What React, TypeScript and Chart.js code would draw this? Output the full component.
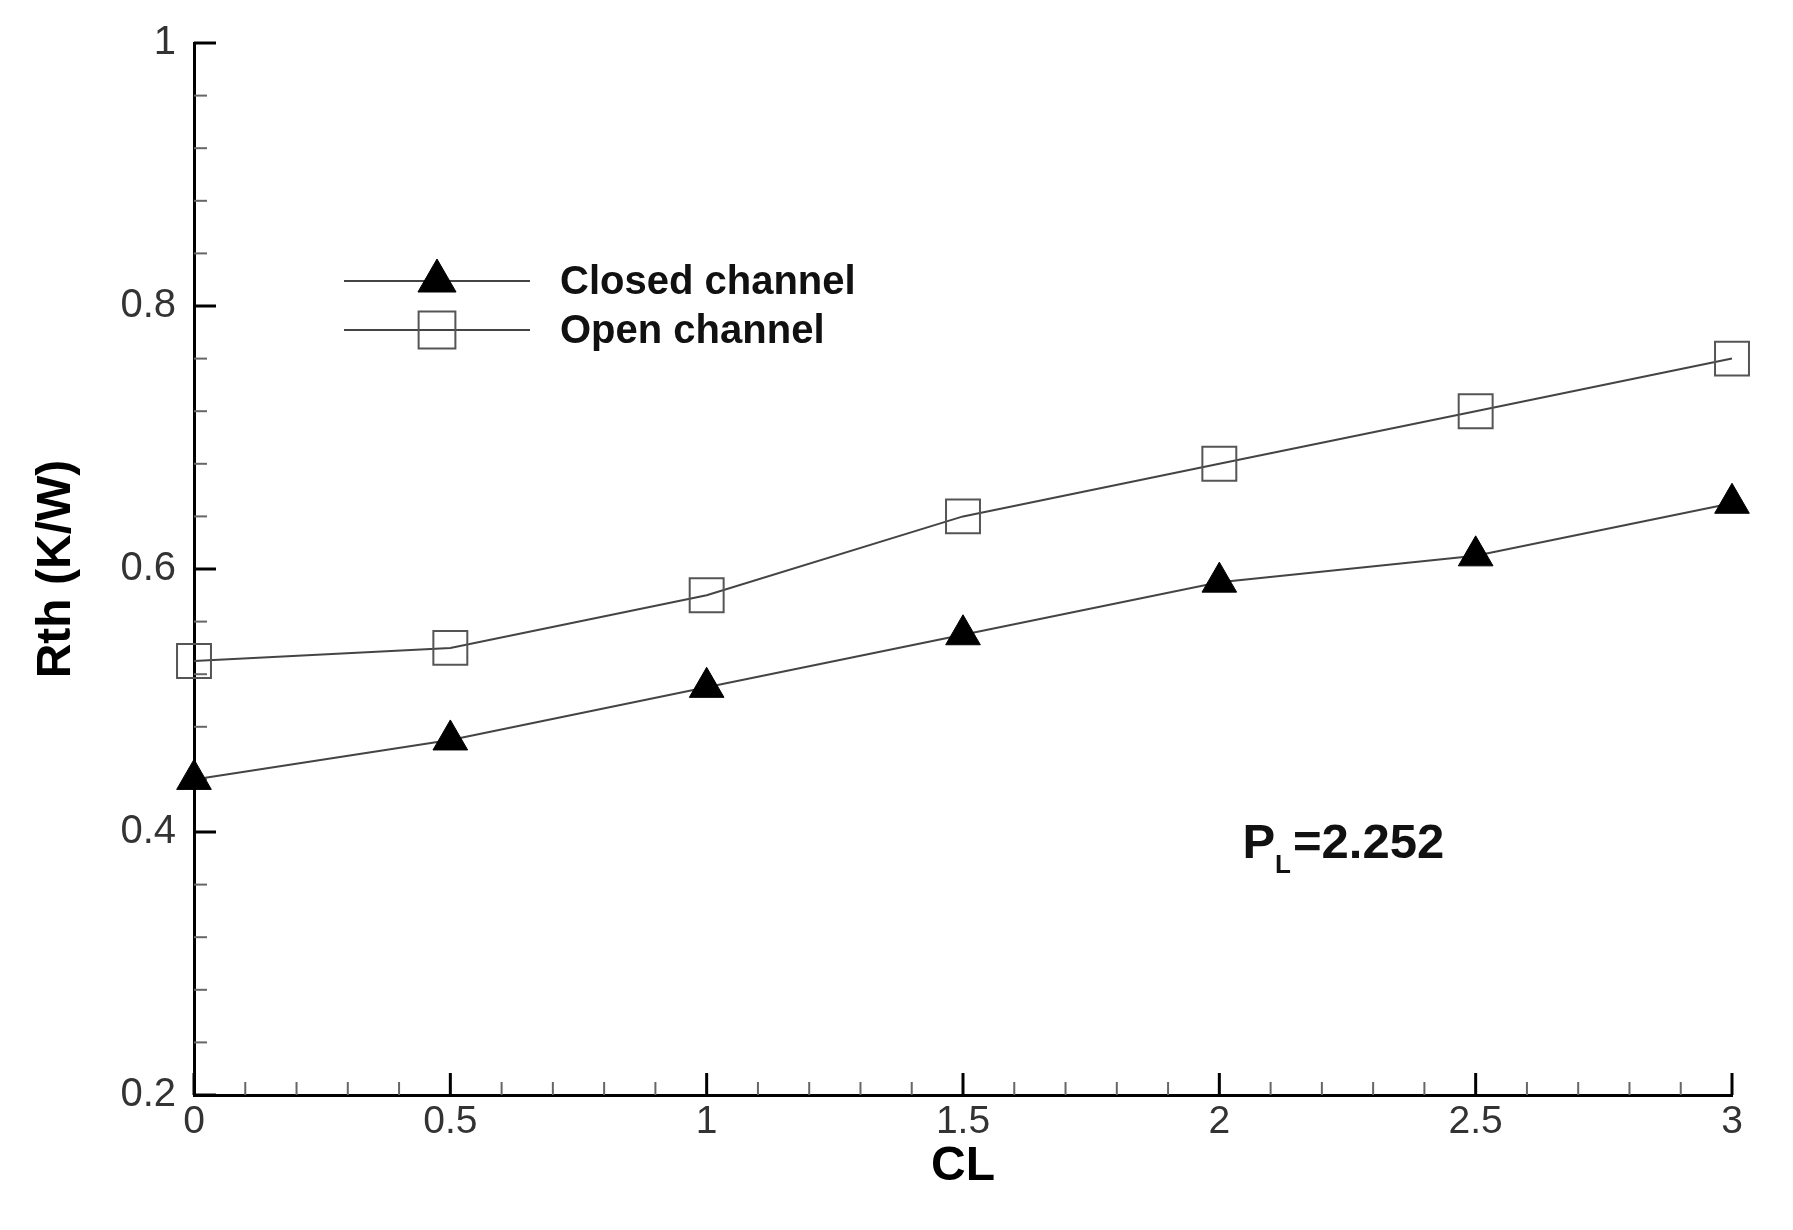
import React, { useEffect, useRef } from 'react';
import { Chart, registerables } from 'chart.js';

Chart.register(...registerables);

// ---- Data ----
const clValues = [0, 0.5, 1, 1.5, 2, 2.5, 3];
const closedChannel = [0.44, 0.47, 0.51, 0.55, 0.59, 0.61, 0.65];
const openChannel = [0.53, 0.54, 0.58, 0.64, 0.68, 0.72, 0.76];
const seriesNames = ['Closed channel', 'Open channel'];
const xTickValues = [0, 0.5, 1, 1.5, 2, 2.5, 3];
const yTickValues = [0.2, 0.4, 0.6, 0.8, 1];
const xTitle = 'CL';
const yTitle = 'Rth (K/W)';
const annotationParts = ['P', 'L', '=2.252'];
const annotationAt = [2.045, 0.38]; // [CL, Rth] of text baseline start

const MINOR_DIVISIONS = 5;
const FONT = '"Liberation Sans", Arial, Helvetica, sans-serif';

function drawMarker(ctx: CanvasRenderingContext2D, style: string, x: number, y: number, r: number, fill: string | null, stroke: string, lw: number) {
  ctx.save();
  ctx.beginPath();
  if (style === 'triangle') {
    const a = (2 * Math.PI) / 3;
    ctx.moveTo(x, y - r);
    ctx.lineTo(x + Math.sin(a) * r, y - Math.cos(a) * r);
    ctx.lineTo(x + Math.sin(2 * a) * r, y - Math.cos(2 * a) * r);
    ctx.closePath();
  } else {
    const s = Math.SQRT1_2 * r;
    ctx.rect(x - s, y - s, 2 * s, 2 * s);
  }
  if (fill) {
    ctx.fillStyle = fill;
    ctx.fill();
  }
  ctx.lineWidth = lw;
  ctx.strokeStyle = stroke;
  ctx.stroke();
  ctx.restore();
}

const tickPlugin = {
  id: 'inwardTicks',
  beforeDatasetsDraw(chart: any) {
    const { ctx, chartArea } = chart;
    const xs = chart.scales.x;
    const ys = chart.scales.y;
    ctx.save();
    // x ticks
    for (let i = 0; i < xTickValues.length; i++) {
      const v0 = xTickValues[i];
      for (let k = 0; k < MINOR_DIVISIONS; k++) {
        if (i === xTickValues.length - 1 && k > 0) break;
        const step = i < xTickValues.length - 1 ? (xTickValues[i + 1] - v0) / MINOR_DIVISIONS : 0;
        const v = v0 + k * step;
        const px = xs.getPixelForValue(v);
        const major = k === 0;
        ctx.beginPath();
        ctx.strokeStyle = major ? '#000' : '#666';
        ctx.lineWidth = major ? 3 : 2;
        ctx.moveTo(px, chartArea.bottom);
        ctx.lineTo(px, chartArea.bottom - (major ? 22 : 13));
        ctx.stroke();
      }
    }
    // y ticks
    for (let i = 0; i < yTickValues.length; i++) {
      const v0 = yTickValues[i];
      for (let k = 0; k < MINOR_DIVISIONS; k++) {
        if (i === yTickValues.length - 1 && k > 0) break;
        const step = i < yTickValues.length - 1 ? (yTickValues[i + 1] - v0) / MINOR_DIVISIONS : 0;
        const v = v0 + k * step;
        const py = ys.getPixelForValue(v);
        const major = k === 0;
        ctx.beginPath();
        ctx.strokeStyle = major ? '#000' : '#666';
        ctx.lineWidth = major ? 3 : 2;
        ctx.moveTo(chartArea.left, py);
        ctx.lineTo(chartArea.left + (major ? 22 : 13), py);
        ctx.stroke();
      }
    }
    ctx.restore();
  },
  afterDraw(chart: any) {
    const { ctx, chartArea } = chart;
    const xs = chart.scales.x;
    const ys = chart.scales.y;
    ctx.save();
    // Legend
    const lx0 = chartArea.left + 150;
    const lx1 = chartArea.left + 336;
    const mx = chartArea.left + 243;
    const tx = chartArea.left + 366;
    const rows = [chartArea.top + 238, chartArea.top + 287];
    const styles = ['triangle', 'rect'];
    chart.data.datasets.forEach((ds: any, i: number) => {
      const y = rows[i];
      ctx.beginPath();
      ctx.strokeStyle = ds.borderColor;
      ctx.lineWidth = ds.borderWidth;
      ctx.moveTo(lx0, y);
      ctx.lineTo(lx1, y);
      ctx.stroke();
      if (styles[i] === 'triangle') {
        drawMarker(ctx, 'triangle', mx, y, 22, '#000', '#000', 1);
      } else {
        drawMarker(ctx, 'rect', mx, y, 26, null, '#555', 2);
      }
      ctx.fillStyle = '#111';
      ctx.font = `bold 40px ${FONT}`;
      ctx.textBaseline = 'middle';
      ctx.textAlign = 'left';
      ctx.fillText(seriesNames[i], tx, y + 2);
    });
    // Annotation P_L = 2.252
    const ax = xs.getPixelForValue(annotationAt[0]);
    const ay = ys.getPixelForValue(annotationAt[1]);
    ctx.fillStyle = '#111';
    ctx.textBaseline = 'alphabetic';
    ctx.textAlign = 'left';
    ctx.font = `bold 49px ${FONT}`;
    ctx.fillText(annotationParts[0], ax, ay);
    const w0 = ctx.measureText(annotationParts[0]).width;
    ctx.font = `bold 26px ${FONT}`;
    ctx.fillText(annotationParts[1], ax + w0, ay + 15);
    const w1 = ctx.measureText(annotationParts[1]).width;
    ctx.font = `bold 49px ${FONT}`;
    ctx.fillText(annotationParts[2], ax + w0 + w1 + 2, ay);
    ctx.restore();
  },
};

export default function App() {
  const canvasRef = useRef<HTMLCanvasElement | null>(null);

  useEffect(() => {
    const canvas = canvasRef.current;
    if (!canvas) return;
    const chart = new Chart(canvas, {
      type: 'line',
      data: {
        datasets: [
          {
            label: seriesNames[0],
            data: clValues.map((x, i) => ({ x, y: closedChannel[i] })),
            borderColor: '#444',
            borderWidth: 2,
            pointStyle: 'triangle',
            pointRadius: 20,
            pointBackgroundColor: '#000',
            pointBorderColor: '#000',
            pointBorderWidth: 1,
            tension: 0,
            clip: false,
          },
          {
            label: seriesNames[1],
            data: clValues.map((x, i) => ({ x, y: openChannel[i] })),
            borderColor: '#444',
            borderWidth: 2,
            pointStyle: 'rect',
            pointRadius: 24,
            pointBackgroundColor: 'rgba(0,0,0,0)',
            pointBorderColor: '#555',
            pointBorderWidth: 2,
            tension: 0,
            clip: false,
          },
        ],
      },
      options: {
        responsive: false,
        animation: false,
        devicePixelRatio: 1,
        layout: { padding: { left: 0, right: 61, top: 43, bottom: 0 } },
        plugins: {
          legend: { display: false },
          tooltip: { enabled: false },
        },
        scales: {
          x: {
            type: 'linear',
            min: xTickValues[0],
            max: xTickValues[xTickValues.length - 1],
            grid: { display: false, drawTicks: false },
            border: { display: true, color: '#000', width: 3 },
            afterBuildTicks: (s: any) => {
              s.ticks = xTickValues.map((v) => ({ value: v }));
            },
            afterFit: (s: any) => {
              s.height = 135;
            },
            ticks: {
              padding: 4,
              color: '#333',
              font: { family: FONT, size: 39 },
              maxRotation: 0,
              autoSkip: false,
              callback: (v: any) => String(Number(Number(v).toFixed(2))),
            },
            title: {
              display: true,
              text: xTitle,
              color: '#000',
              font: { family: FONT, size: 48, weight: 'bold' },
              padding: { top: 0, bottom: 34 },
            },
          },
          y: {
            type: 'linear',
            min: yTickValues[0],
            max: yTickValues[yTickValues.length - 1],
            grid: { display: false, drawTicks: false },
            border: { display: true, color: '#000', width: 3 },
            afterBuildTicks: (s: any) => {
              s.ticks = yTickValues.map((v) => ({ value: v }));
            },
            afterFit: (s: any) => {
              s.width = 194;
            },
            ticks: {
              padding: 18,
              color: '#333',
              font: { family: FONT, size: 40 },
              autoSkip: false,
              callback: (v: any) => String(Number(Number(v).toFixed(2))),
            },
            title: {
              display: true,
              text: yTitle,
              color: '#000',
              font: { family: FONT, size: 48, weight: 'bold' },
              padding: { top: 28, bottom: 0 },
            },
          },
        },
      },
      plugins: [tickPlugin],
    } as any);
    return () => chart.destroy();
  }, []);

  return (
    <div style={{ position: 'absolute', left: 0, top: 0, width: 1793, height: 1230, background: '#fff' }}>
      <canvas ref={canvasRef} width={1793} height={1230} style={{ display: 'block' }} />
    </div>
  );
}
